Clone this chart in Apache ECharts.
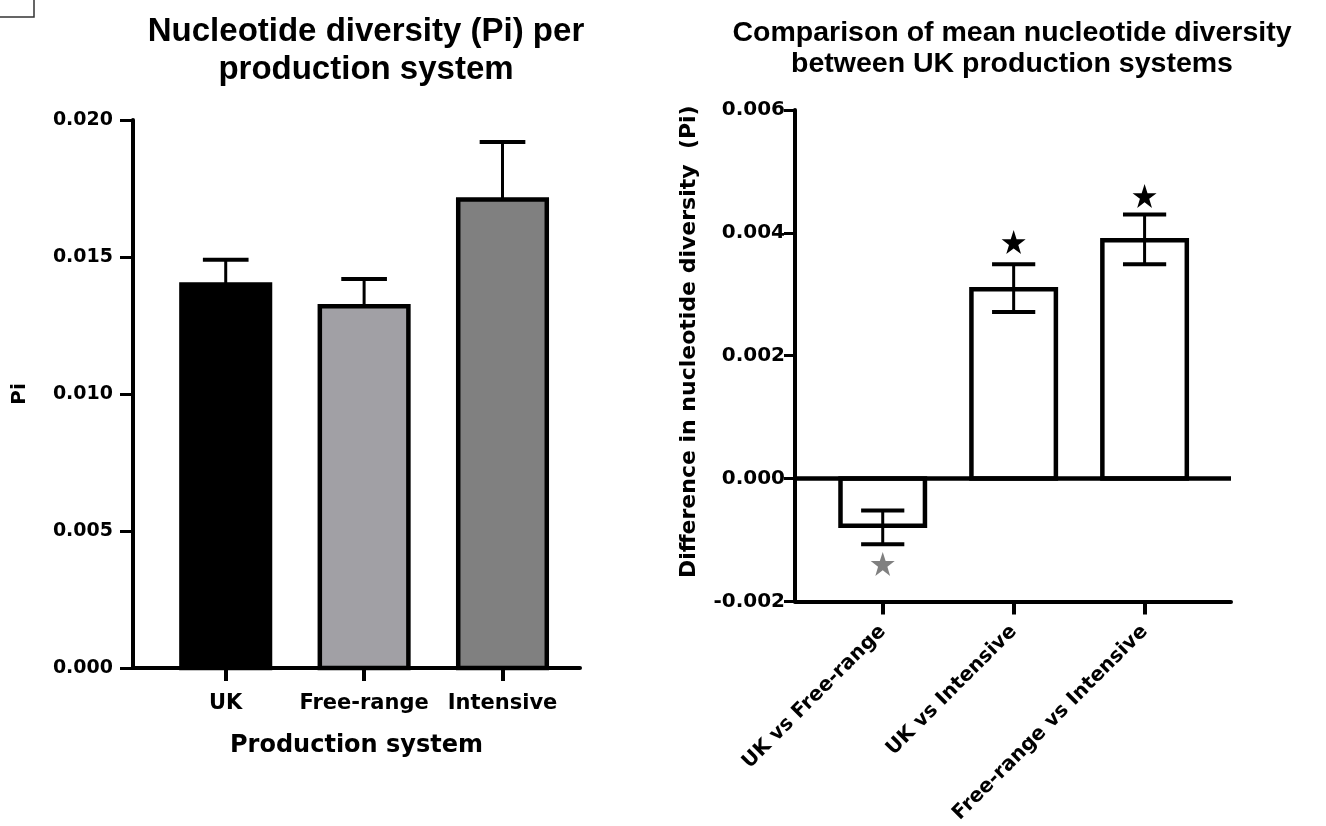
<!DOCTYPE html>
<html>
<head>
<meta charset="utf-8">
<script src="https://cdn.jsdelivr.net/npm/echarts@6/dist/echarts.min.js"></script>
<style>
html,body{margin:0;padding:0;background:#fff;}
#c{width:1326px;height:826px;}
</style>
</head>
<body>
<div id="c"></div>
<script>
// ---- Data ----
const leftCategories = ['UK', 'Free-range', 'Intensive'];
const leftMeans = [0.0140, 0.0132, 0.0171];
const leftUpper = [0.0149, 0.0142, 0.0192];
const leftTicks = [0, 0.005, 0.010, 0.015, 0.020];

const rightCategories = ['UK vs Free-range', 'UK vs Intensive', 'Free-range vs Intensive'];
const rightMeans = [-0.00077, 0.00308, 0.00388];
const rightLower = [-0.00107, 0.00271, 0.00349];
const rightUpper = [-0.00052, 0.00349, 0.00430];
const starValues = [-0.00139, 0.00385, 0.00460];
const rightTicks = [-0.002, 0, 0.002, 0.004, 0.006];

// ---- Styles ----
const FONT_T = '"Liberation Sans", Arial, sans-serif';
const FONT = '"DejaVu Sans", "Liberation Sans", Arial, sans-serif';
const leftFills = ['#000000', '#a1a0a5', '#808080'];
const starColors = ['#808080', '#000000', '#000000'];
const STAR = 'path://M50,0 L61.8,35.1 L98.5,35.1 L68.8,56.8 L79.9,91.9 L50,70.2 L20.1,91.9 L31.2,56.8 L1.5,35.1 L38.2,35.1 Z';

const leftIdx = leftCategories.map((c, i) => i);
const rightIdx = rightCategories.map((c, i) => i);

function barRenderer(barW, fills, lw) {
  return function (params, api) {
    const x = api.value(0), y = api.value(1);
    const p0 = api.coord([x, 0]);
    const p1 = api.coord([x, y]);
    const w = api.size([barW, 0])[0];
    return {
      type: 'rect',
      shape: { x: p0[0] - w / 2, y: Math.min(p0[1], p1[1]), width: w, height: Math.abs(p1[1] - p0[1]) },
      style: { fill: fills ? fills[params.dataIndex] : '#ffffff', stroke: '#000', lineWidth: lw }
    };
  };
}
function errRenderer(capW, lw, bottomCap) {
  return function (params, api) {
    const x = api.value(0), lo = api.value(1), hi = api.value(2);
    const pl = api.coord([x, lo]);
    const ph = api.coord([x, hi]);
    const w = api.size([capW, 0])[0];
    const children = [
      { type: 'line', shape: { x1: pl[0], y1: pl[1], x2: ph[0], y2: ph[1] }, style: { stroke: '#000', lineWidth: lw } },
      { type: 'line', shape: { x1: ph[0] - w / 2, y1: ph[1], x2: ph[0] + w / 2, y2: ph[1] }, style: { stroke: '#000', lineWidth: lw + 1 } }
    ];
    if (bottomCap) {
      children.push({ type: 'line', shape: { x1: pl[0] - w / 2, y1: pl[1], x2: pl[0] + w / 2, y2: pl[1] }, style: { stroke: '#000', lineWidth: lw + 1 } });
    }
    return { type: 'group', children: children };
  };
}

const axisLineStyle = { color: '#000', width: 4 };
const chart = echarts.init(document.getElementById('c'), null, { renderer: 'canvas' });

chart.setOption({
  animation: false,
  backgroundColor: '#ffffff',
  textStyle: { fontFamily: FONT },
  title: [
    {
      text: 'Nucleotide diversity (Pi) per\nproduction system',
      left: 361, top: 8, textAlign: 'center',
      textStyle: { fontFamily: FONT_T, fontWeight: 'bold', fontSize: 33, lineHeight: 38, color: '#000' }
    },
    {
      text: 'Comparison of mean nucleotide diversity\nbetween UK production systems',
      left: 1007, top: 13, textAlign: 'center',
      textStyle: { fontFamily: FONT_T, fontWeight: 'bold', fontSize: 28.5, lineHeight: 31, color: '#000' }
    }
  ],
  graphic: [
    { type: 'polyline', shape: { points: [[0, 17], [34, 17], [34, 0]] }, style: { stroke: '#333', lineWidth: 1.5, fill: null } }
  ],
  grid: [
    { left: 133, top: 120, width: 447, height: 548 },
    { left: 795, top: 110, width: 436, height: 492 }
  ],
  xAxis: [
    {
      gridIndex: 0, type: 'value', min: -0.67, max: 2.56,
      name: 'Production system', nameLocation: 'middle', nameGap: 66,
      nameTextStyle: { fontFamily: FONT, fontWeight: 'bold', fontSize: 24, color: '#000' },
      axisLine: { show: true, onZero: false, lineStyle: axisLineStyle },
      axisTick: { show: true, customValues: leftIdx, length: 13, lineStyle: { color: '#000', width: 4 } },
      axisLabel: { customValues: leftIdx, formatter: v => leftCategories[Math.round(v)], fontFamily: FONT, fontWeight: 'bold', fontSize: 21, color: '#000', margin: 25 },
      splitLine: { show: false }
    },
    {
      gridIndex: 1, type: 'value', min: -0.67, max: 2.66,
      axisLine: { show: true, onZero: false, lineStyle: axisLineStyle },
      axisTick: { show: true, customValues: rightIdx, length: 13, lineStyle: { color: '#000', width: 4 } },
      axisLabel: { customValues: rightIdx, formatter: v => rightCategories[Math.round(v)], rotate: 45, fontFamily: FONT, fontWeight: 'bold', fontSize: 20, color: '#000', margin: 27 },
      splitLine: { show: false }
    }
  ],
  yAxis: [
    {
      gridIndex: 0, type: 'value', min: 0, max: 0.02, interval: 0.005,
      name: 'Pi', nameLocation: 'middle', nameGap: 103,
      nameTextStyle: { fontFamily: FONT, fontWeight: 'bold', fontSize: 20, color: '#000' },
      axisLine: { show: true, onZero: false, lineStyle: axisLineStyle },
      axisTick: { show: true, length: 13, lineStyle: { color: '#000', width: 3 } },
      axisLabel: { formatter: v => v.toFixed(3), fontFamily: FONT, fontWeight: 'bold', fontSize: 19, color: '#000', margin: 20 },
      splitLine: { show: false }
    },
    {
      gridIndex: 1, type: 'value', min: -0.002, max: 0.006, interval: 0.002,
      name: 'Difference in nucleotide diversity  (Pi)', nameLocation: 'middle', nameGap: 95,
      nameTextStyle: { fontFamily: FONT, fontWeight: 'bold', fontSize: 22, color: '#000', padding: [0, 0, 0, 28] },
      axisLine: { show: true, onZero: false, lineStyle: axisLineStyle },
      axisTick: { show: true, length: 11, lineStyle: { color: '#000', width: 3 } },
      axisLabel: { formatter: v => v.toFixed(3), fontFamily: FONT, fontWeight: 'bold', fontSize: 20, color: '#000', margin: 10 },
      splitLine: { show: false }
    }
  ],
  series: [
    {
      type: 'custom', xAxisIndex: 0, yAxisIndex: 0, z: 2,
      renderItem: barRenderer(0.64, leftFills, 4.5),
      data: leftMeans.map((v, i) => [i, v])
    },
    {
      type: 'custom', xAxisIndex: 0, yAxisIndex: 0, z: 1,
      renderItem: errRenderer(0.33, 3, false),
      data: leftMeans.map((v, i) => [i, v, leftUpper[i]])
    },
    {
      type: 'custom', xAxisIndex: 1, yAxisIndex: 1, z: 2,
      renderItem: barRenderer(0.645, null, 4.5),
      data: rightMeans.map((v, i) => [i, v]),
      markLine: {
        silent: true, symbol: 'none', label: { show: false },
        lineStyle: { color: '#000', width: 4.5, type: 'solid', opacity: 1 },
        data: [{ yAxis: 0 }]
      }
    },
    {
      type: 'custom', xAxisIndex: 1, yAxisIndex: 1, z: 3,
      renderItem: errRenderer(0.33, 3, true),
      data: rightMeans.map((v, i) => [i, rightLower[i], rightUpper[i]])
    },
    {
      type: 'scatter', xAxisIndex: 1, yAxisIndex: 1, z: 4,
      symbol: STAR, symbolSize: 24,
      data: starValues.map((v, i) => ({ value: [i, v], itemStyle: { color: starColors[i], opacity: 1 } }))
    }
  ]
});
</script>
</body>
</html>
